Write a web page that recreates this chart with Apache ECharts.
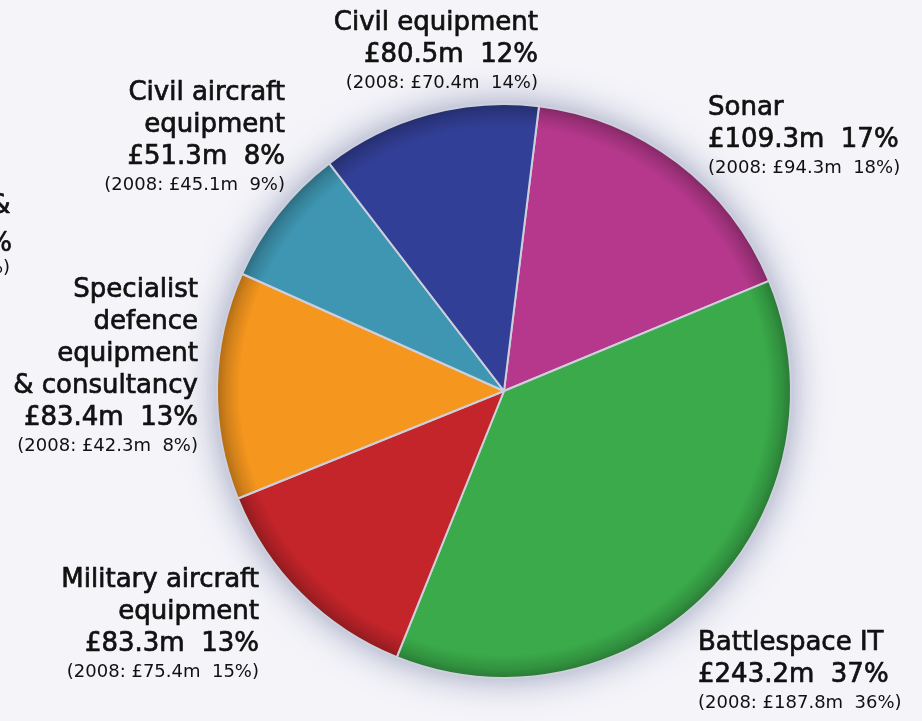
<!DOCTYPE html>
<html>
<head>
<meta charset="utf-8">
<script src="https://cdn.jsdelivr.net/npm/echarts@6/dist/echarts.min.js"></script>
<style>
  html, body { margin: 0; padding: 0; background: #f4f4f9; }
  #chart { width: 922px; height: 721px; }
</style>
</head>
<body>
<div id="chart"></div>
<script>
// ---- data ----
const categories = ['Sonar', 'Battlespace IT', 'Military aircraft\nequipment', 'Specialist\ndefence\nequipment\n& consultancy', 'Civil aircraft\nequipment', 'Civil equipment'];
const values2009 = [109.3, 243.2, 83.3, 83.4, 51.3, 80.5];
const pct2009 = [17, 37, 13, 13, 8, 12];
const values2008 = [94.3, 187.8, 75.4, 42.3, 45.1, 70.4];
const pct2008 = [18, 36, 15, 8, 9, 14];
const colors = ['#b5388c', '#3aaa4a', '#c4252a', '#f5961e', '#3e96b2', '#323f97'];

// ---- layout ----
const CX = 504, CY = 391, R = 287;
const labelPos = [
  { x: 708, y: 92, align: 'left' },
  { x: 698, y: 627, align: 'left' },
  { x: 259, y: 564, align: 'right' },
  { x: 198, y: 274, align: 'right' },
  { x: 285, y: 77, align: 'right' },
  { x: 538, y: 7, align: 'right' }
];

function shade(hex, f) {
  const n = parseInt(hex.slice(1), 16);
  const r = Math.round(((n >> 16) & 255) * f), g = Math.round(((n >> 8) & 255) * f), b = Math.round((n & 255) * f);
  return 'rgb(' + Math.min(r,255) + ',' + Math.min(g,255) + ',' + Math.min(b,255) + ')';
}

const data = categories.map((c, i) => ({
  name: c,
  value: values2009[i],
  itemStyle: {
    color: {
      type: 'radial', x: CX, y: CY, r: R, global: true,
      colorStops: [
        { offset: 0, color: colors[i] },
        { offset: 0.92, color: colors[i] },
        { offset: 0.97, color: shade(colors[i], 0.85) },
        { offset: 1, color: shade(colors[i], 0.72) }
      ]
    }
  }
}));

const chart = echarts.init(document.getElementById('chart'), null, { renderer: 'canvas' });
const total = values2009.reduce((a, b) => a + b, 0);
const TXT = '#111111';
const thick = { textBorderColor: TXT, textBorderWidth: 0.7 };

chart.setOption({
  backgroundColor: '#f4f4f9',
  animation: false,
  textStyle: { fontFamily: 'DejaVu Sans' },
  graphic: [
    {
      type: 'text', left: -10, top: 193, z: 10,
      style: { text: '&', fill: TXT, stroke: TXT, lineWidth: 0.7, font: '26px "DejaVu Sans"' }
    },
    {
      type: 'text', left: -13, top: 231, z: 10,
      style: { text: '%', fill: TXT, stroke: TXT, lineWidth: 0.7, font: '26px "DejaVu Sans"' }
    },
    {
      type: 'text', left: -14, top: 259, z: 10,
      style: { text: '%)', fill: TXT, font: '18px "DejaVu Sans"' }
    }
  ],
  series: [
    {
      type: 'pie',
      silent: true,
      z: 1,
      center: [CX, CY],
      radius: R,
      startAngle: 83,
      label: { show: false },
      labelLine: { show: false },
      itemStyle: {
        color: '#d0d2de',
        shadowBlur: 36,
        shadowColor: 'rgba(70,80,130,0.55)',
        borderWidth: 0
      },
      data: [{ name: 'shadow', value: total }]
    },
    {
      type: 'pie',
      z: 2,
      center: [CX, CY],
      radius: R,
      startAngle: 83,
      clockwise: true,
      avoidLabelOverlap: false,
      itemStyle: { borderColor: '#cdd0dc', borderWidth: 2 },
      label: {
        show: true,
        color: TXT,
        fontFamily: 'DejaVu Sans',
        formatter: function (p) {
          const i = p.dataIndex;
          return '{n|' + categories[i] + '}\n{v|£' + values2009[i].toFixed(1) + 'm  ' + pct2009[i] + '%}\n{o|(2008: £' + values2008[i].toFixed(1) + 'm  ' + pct2008[i] + '%)}';
        },
        rich: {
          n: Object.assign({ fontSize: 26, lineHeight: 32, color: TXT, fontFamily: 'DejaVu Sans' }, thick),
          v: Object.assign({ fontSize: 26, lineHeight: 32, color: TXT, fontFamily: 'DejaVu Sans' }, thick),
          o: { fontSize: 18, lineHeight: 24, color: TXT, fontFamily: 'DejaVu Sans' }
        }
      },
      labelLine: { show: false },
      labelLayout: function (params) {
        const p = labelPos[params.dataIndex];
        return { x: p.x, y: p.y, align: p.align, verticalAlign: 'top' };
      },
      data: data
    }
  ]
});
</script>
</body>
</html>
